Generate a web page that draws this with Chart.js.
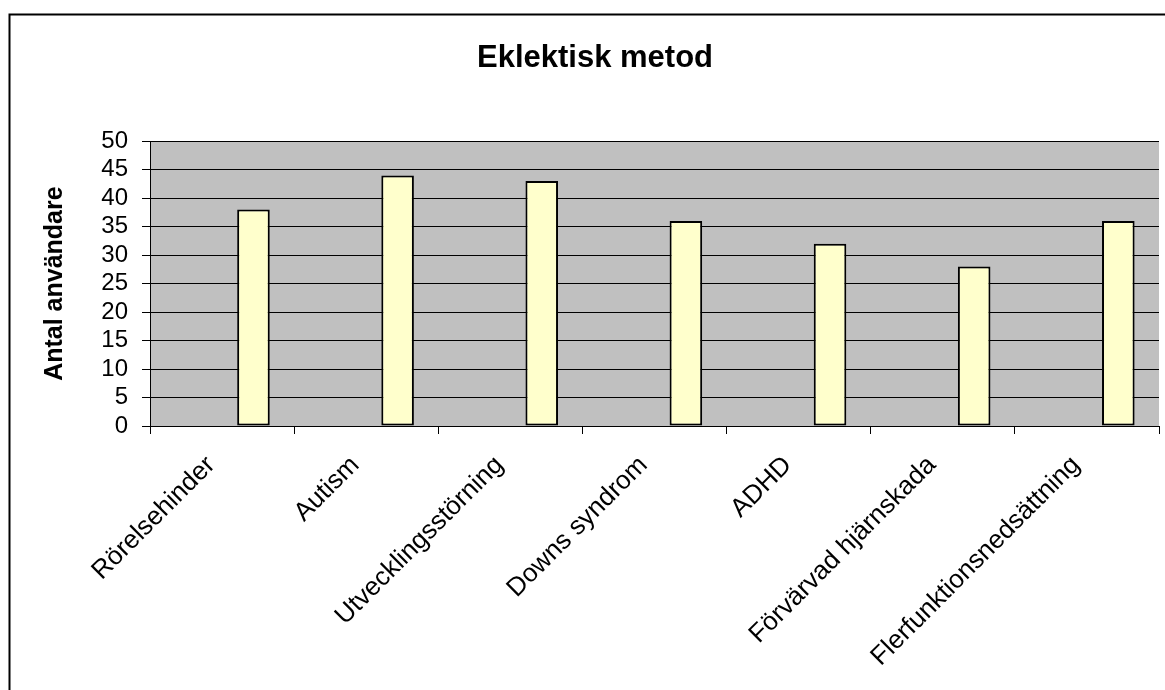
<!DOCTYPE html>
<html>
<head>
<meta charset="utf-8">
<script src="https://cdn.jsdelivr.net/npm/chart.js@4"></script>
<style>
  html, body { margin: 0; padding: 0; background: #fff; }
  #wrap { width: 1165px; height: 690px; }
</style>
</head>
<body>
<div id="wrap"><canvas id="chart" width="1165" height="690"></canvas></div>
<script>
// === Data ===
const categories = [
  "Rörelsehinder",
  "Autism",
  "Utvecklingsstörning",
  "Downs syndrom",
  "ADHD",
  "Förvärvad hjärnskada",
  "Flerfunktionsnedsättning"
];
const antalAnvandare = [38, 44, 43, 36, 32, 28, 36];
// empty first series (keeps bars in the right half of each category, as in the original)
const emptySeries = [null, null, null, null, null, null, null];
const yTicks = [0, 5, 10, 15, 20, 25, 30, 35, 40, 45, 50];

const FONT = "'Liberation Sans', Arial, sans-serif";

// === Plot background + outer frame ===
const framePlugin = {
  id: "frame",
  beforeDraw(chart) {
    const { ctx, chartArea: a } = chart;
    ctx.save();
    ctx.fillStyle = "#c0c0c0";
    ctx.fillRect(a.left, a.top, a.right - a.left, a.bottom - a.top);
    ctx.restore();
  },
  afterDraw(chart) {
    const ctx = chart.ctx;
    ctx.save();
    ctx.strokeStyle = "#000";
    ctx.lineWidth = 2;
    ctx.beginPath();
    ctx.moveTo(9.5, 700);
    ctx.lineTo(9.5, 14.5);
    ctx.lineTo(1200, 14.5);
    ctx.stroke();
    ctx.restore();
  }
};

// === Chart ===
const ctx = document.getElementById("chart").getContext("2d");
const chart = new Chart(ctx, {
  type: "bar",
  data: {
    labels: categories,
    datasets: [
      {
        label: "",
        data: emptySeries,
        backgroundColor: "#9999ff"
      },
      {
        label: "Antal användare",
        data: antalAnvandare,
        backgroundColor: "#ffffcc",
        borderColor: "#000",
        borderWidth: 2,
        borderSkipped: false
      }
    ]
  },
  options: {
    responsive: false,
    animation: false,
    categoryPercentage: 0.871,
    barPercentage: 0.519,
    layout: { padding: { left: 31, right: 6, top: 0, bottom: 0 } },
    plugins: {
      legend: { display: false },
      tooltip: { enabled: false },
      title: {
        display: true,
        text: "Eklektisk metod",
        color: "#000",
        font: { family: FONT, size: 31, weight: "bold" },
        padding: { top: 40, bottom: 64 }
      }
    },
    scales: {
      x: {
        afterFit: (scale) => { scale.height = 264; },
        grid: {
          offset: true,
          drawOnChartArea: false,
          drawTicks: true,
          tickLength: 8,
          color: "#000"
        },
        border: { color: "#000", width: 1 },
        ticks: {
          color: "#000",
          font: { family: FONT, size: 26 },
          minRotation: 45,
          maxRotation: 45,
          autoSkip: false,
          labelOffset: -11,
          padding: 16
        }
      },
      y: {
        min: 0,
        max: 50,
        afterFit: (scale) => { scale.width = 119; },
        afterBuildTicks: (scale) => { scale.ticks = yTicks.map(v => ({ value: v })); },
        grid: {
          color: "#000",
          lineWidth: 1,
          drawTicks: true,
          tickLength: 8
        },
        border: { color: "#000", width: 1 },
        ticks: {
          color: "#000",
          font: { family: FONT, size: 24 },
          autoSkip: false,
          padding: 14
        },
        title: {
          display: true,
          text: "Antal användare",
          color: "#000",
          font: { family: FONT, size: 25, weight: "bold" },
          padding: { top: 9, bottom: 0 }
        }
      }
    }
  },
  plugins: [framePlugin]
});
</script>
</body>
</html>
